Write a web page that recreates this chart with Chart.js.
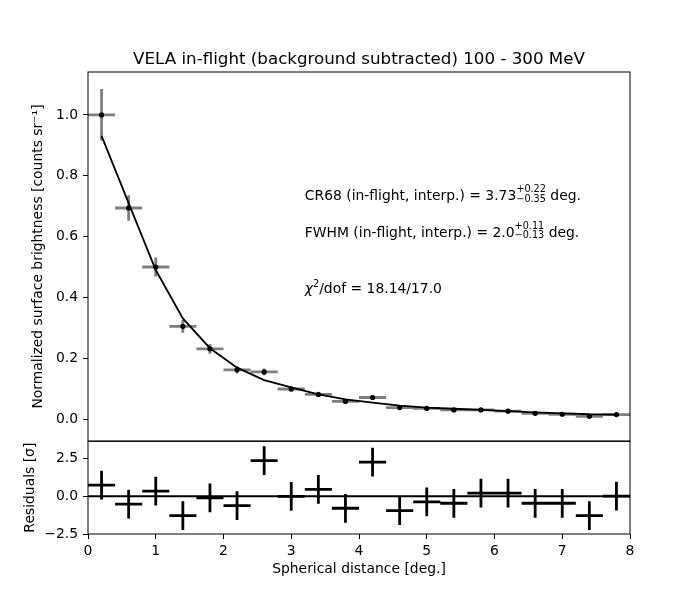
<!DOCTYPE html>
<html>
<head>
<meta charset="utf-8">
<script src="https://cdn.jsdelivr.net/npm/chart.js@4.4.1/dist/chart.umd.min.js"></script>
<style>
body { margin: 0; background: #fff; }
#wrap { position: relative; width: 700px; height: 600px; }
#profile { position: absolute; left: 0; top: 0; width: 700px; height: 460px; }
#resid { position: absolute; left: 0; top: 428px; width: 700px; height: 172px; }
</style>
</head>
<body>
<div id="wrap">
<canvas id="profile" width="700" height="460"></canvas>
<canvas id="resid" width="700" height="172"></canvas>
</div>
<script>
// data
var binCenters = [0.2, 0.6, 1.0, 1.4, 1.8, 2.2, 2.6, 3.0, 3.4, 3.8, 4.2, 4.6, 5.0, 5.4, 5.8, 6.2, 6.6, 7.0, 7.4, 7.8];
var binHalfWidth = 0.2;
var brightness = [1.0, 0.694, 0.5, 0.305, 0.231, 0.162, 0.155, 0.099, 0.081, 0.058, 0.071, 0.038, 0.035, 0.030, 0.030, 0.026, 0.019, 0.016, 0.009, 0.015];
var brightnessErr = [0.085, 0.042, 0.031, 0.021, 0.016, 0.012, 0.011, 0.008, 0.007, 0.006, 0.006, 0.005, 0.005, 0.004, 0.004, 0.004, 0.004, 0.004, 0.004, 0.004];
var model = [0.931, 0.71, 0.49, 0.331, 0.233, 0.169, 0.128, 0.104, 0.081, 0.065, 0.054, 0.044, 0.038, 0.034, 0.030, 0.026, 0.022, 0.019, 0.016, 0.015];
var residuals = [0.73, -0.53, 0.33, -1.29, -0.11, -0.62, 2.35, -0.02, 0.45, -0.8, 2.25, -0.95, -0.38, -0.47, 0.2, 0.2, -0.47, -0.47, -1.29, 0.0];
var residualErr = [0.95, 0.95, 0.95, 0.95, 0.95, 0.95, 0.95, 0.95, 0.95, 0.95, 0.95, 0.95, 0.95, 0.95, 0.95, 0.95, 0.95, 0.95, 0.95, 0.95];

var xTicks = [0, 1, 2, 3, 4, 5, 6, 7, 8];
var xTickLabels = ['0', '1', '2', '3', '4', '5', '6', '7', '8'];
var yTicksTop = [0, 0.2, 0.4, 0.6, 0.8, 1.0];
var yTickLabelsTop = ['0.0', '0.2', '0.4', '0.6', '0.8', '1.0'];
var yTicksRes = [-2.5, 0, 2.5];
var yTickLabelsRes = ['\u22122.5', '0.0', '2.5'];

Chart.defaults.font.family = '"DejaVu Sans"';
Chart.defaults.color = '#000';
Chart.defaults.animation = false;

// error bars as one line dataset, pieces split by NaN points
function errorBars(xs, ys, xe, ye) {
  var pts = [];
  for (var i = 0; i < xs.length; i++) {
    pts.push({x: xs[i] - xe, y: ys[i]}, {x: xs[i] + xe, y: ys[i]}, {x: NaN, y: NaN});
    pts.push({x: xs[i], y: ys[i] - ye[i]}, {x: xs[i], y: ys[i] + ye[i]}, {x: NaN, y: NaN});
  }
  return pts;
}
function xy(xs, ys) {
  return xs.map(function (x, i) { return {x: x, y: ys[i]}; });
}
function fixTicks(values) {
  return function (s) { s.ticks = values.map(function (v) { return {value: v}; }); };
}

var frame = {
  id: 'frame',
  afterDraw: function (chart) {
    var a = chart.chartArea, ctx = chart.ctx;
    ctx.save();
    ctx.strokeStyle = '#000';
    ctx.lineWidth = 1;
    ctx.strokeRect(a.left, a.top, a.right - a.left, a.bottom - a.top);
    ctx.restore();
  }
};

function fnt(size, italic) {
  return (italic ? 'italic ' : '') + size + 'px "DejaVu Sans"';
}
// draw a line of text with small super/subscripts
function drawRich(ctx, x, y, parts) {
  parts.forEach(function (p) {
    if (p.sup !== undefined) {
      ctx.font = fnt(9.7);
      var w = ctx.measureText(p.sup).width;
      ctx.fillText(p.sup, x, y + p.supDy);
      if (p.sub !== undefined) {
        ctx.fillText(p.sub, x, y + 1.5);
        w = Math.max(w, ctx.measureText(p.sub).width);
      }
      x += w;
    } else {
      ctx.font = fnt(13.9, p.italic);
      ctx.fillText(p.text, x, y);
      x += ctx.measureText(p.text).width;
    }
  });
}

var labels = {
  id: 'labels',
  afterDraw: function (chart) {
    var ctx = chart.ctx, a = chart.chartArea;
    var sx = chart.scales.x, sy = chart.scales.y;
    ctx.save();
    ctx.fillStyle = '#000';
    ctx.textBaseline = 'alphabetic';
    ctx.textAlign = 'center';
    ctx.font = fnt(16.7);
    ctx.fillText('VELA in-flight (background subtracted) 100 - 300 MeV', (a.left + a.right) / 2, a.top - 8);
    ctx.textAlign = 'left';
    var tx = sx.getPixelForValue(3.2);
    drawRich(ctx, tx, sy.getPixelForValue(0.72), [
      {text: 'CR68 (in-flight, interp.) = 3.73'},
      {sup: '+0.22', sub: '\u22120.35', supDy: -8},
      {text: ' deg.'}
    ]);
    drawRich(ctx, tx, sy.getPixelForValue(0.599), [
      {text: 'FWHM (in-flight, interp.) = 2.0'},
      {sup: '+0.11', sub: '\u22120.13', supDy: -8},
      {text: ' deg.'}
    ]);
    drawRich(ctx, tx, sy.getPixelForValue(0.415), [
      {text: '\u03c7', italic: true},
      {sup: '2', supDy: -5.5},
      {text: '/dof = 18.14/17.0'}
    ]);
    ctx.restore();
  }
};

var axisGrid = {drawOnChartArea: false, drawTicks: true, tickLength: 5, color: '#000'};

// Profile panel
var ctx = document.getElementById('profile').getContext('2d');
var profileChart = new Chart(ctx, {
  type: 'scatter',
  data: {
    datasets: [{
      label: 'Data',
      data: xy(binCenters, brightness),
      pointRadius: 2.6,
      pointBackgroundColor: '#000',
      pointBorderWidth: 0,
      showLine: false
    }, {
      label: 'Model',
      data: xy(binCenters, model),
      showLine: true,
      borderColor: '#000',
      borderWidth: 1.8,
      pointRadius: 0
    }, {
      label: 'Errors',
      data: errorBars(binCenters, brightness, binHalfWidth, brightnessErr),
      showLine: true,
      borderColor: 'rgba(0,0,0,0.5)',
      borderWidth: 2.8,
      pointRadius: 0
    }]
  },
  options: {
    responsive: false,
    devicePixelRatio: 1,
    layout: {padding: {left: 0, right: 70, top: 72, bottom: 19}},
    plugins: {legend: {display: false}, tooltip: {enabled: false}},
    scales: {
      x: {type: 'linear', min: 0, max: 8, display: false},
      y: {
        type: 'linear', min: -0.072, max: 1.141,
        afterFit: function (s) { s.width = 88; },
        afterBuildTicks: fixTicks(yTicksTop),
        ticks: {font: {size: 13.9}, padding: 5, callback: function (v, i) { return yTickLabelsTop[i]; }},
        grid: axisGrid,
        border: {display: false},
        title: {display: true, text: 'Normalized surface brightness [counts sr\u207b\u00b9]', font: {size: 13.9}, padding: {top: 30, bottom: 0}}
      }
    }
  },
  plugins: [frame, labels]
});

// Residual panel
var ctx2 = document.getElementById('resid').getContext('2d');
var residChart = new Chart(ctx2, {
  type: 'scatter',
  data: {
    datasets: [{
      label: 'Zero',
      data: [{x: 0, y: 0}, {x: 8, y: 0}],
      showLine: true,
      borderColor: '#000',
      borderWidth: 2,
      pointRadius: 0
    }, {
      label: 'Residuals',
      data: errorBars(binCenters, residuals, binHalfWidth, residualErr),
      showLine: true,
      borderColor: '#000',
      borderWidth: 2.8,
      pointRadius: 0
    }]
  },
  options: {
    responsive: false,
    devicePixelRatio: 1,
    layout: {padding: {left: 0, right: 70, top: 9, bottom: 18.7}},
    plugins: {legend: {display: false}, tooltip: {enabled: false}},
    scales: {
      x: {
        type: 'linear', min: 0, max: 8,
        afterFit: function (s) { s.height = 47.3; },
        afterBuildTicks: fixTicks(xTicks),
        ticks: {font: {size: 13.9}, padding: 4, maxRotation: 0, callback: function (v, i) { return xTickLabels[i]; }},
        grid: axisGrid,
        border: {display: false},
        title: {display: true, text: 'Spherical distance [deg.]', font: {size: 13.9}, padding: {top: 0, bottom: 4}}
      },
      y: {
        type: 'linear', min: -2.5, max: 3.62,
        afterFit: function (s) { s.width = 88; },
        afterBuildTicks: fixTicks(yTicksRes),
        ticks: {font: {size: 13.9}, padding: 5, callback: function (v, i) { return yTickLabelsRes[i]; }},
        grid: axisGrid,
        border: {display: false},
        title: {display: true, text: 'Residuals [\u03c3]', font: {size: 13.9}, padding: {top: 21.7, bottom: 0}}
      }
    }
  },
  plugins: [frame]
});
</script>
</body>
</html>
